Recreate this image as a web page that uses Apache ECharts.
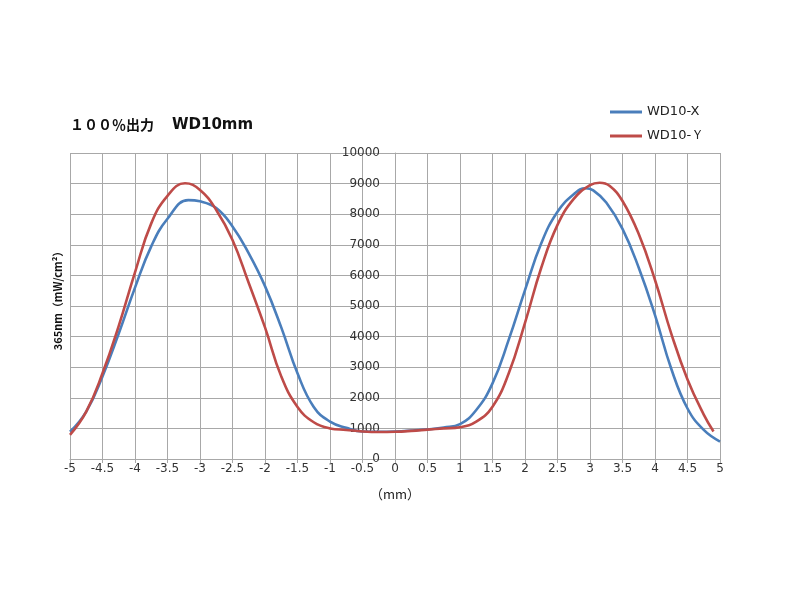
<!DOCTYPE html>
<html>
<head>
<meta charset="utf-8">
<script src="https://cdn.jsdelivr.net/npm/echarts@6/dist/echarts.min.js"></script>
<style>html,body{margin:0;padding:0;background:#fff}#c{width:800px;height:599px}</style>
</head>
<body>
<div id="c"></div>
<script>
const titleMain = '１００％出力';
const titleSub = 'WD10mm';
const yName = '365nm（mW/cm²）';
const xName = '（mm）';
const seriesNames = ['WD10-X', 'WD10-Ｙ'];

const xBlue = [-5,-4.75,-4.5,-4.25,-4,-3.75,-3.5,-3.18,-3,-2.75,-2.5,-2.25,-2,-1.75,-1.5,-1.25,-1,-0.75,-0.5,-0.25,0,0.25,0.5,0.75,1,1.25,1.5,1.75,2,2.25,2.5,2.75,2.93,3.05,3.25,3.5,3.75,4,4.25,4.5,4.75,5];
const yBlue = [890,1550,2700,4100,5600,6950,7850,8460,8420,8200,7600,6720,5650,4300,2800,1700,1220,1020,900,890,900,930,970,1030,1140,1600,2470,3900,5520,7050,8080,8650,8850,8780,8380,7520,6250,4700,2950,1650,950,570];

const xRed = [-5,-4.75,-4.5,-4.25,-4,-3.75,-3.5,-3.23,-3,-2.75,-2.5,-2.25,-2,-1.75,-1.5,-1.25,-1,-0.75,-0.5,-0.25,0,0.25,0.5,0.75,1,1.25,1.5,1.75,2,2.25,2.5,2.75,3,3.15,3.3,3.5,3.75,4,4.25,4.5,4.75,4.9];
const yRed = [790,1550,2800,4350,6100,7700,8600,9010,8790,8140,7160,5750,4300,2700,1700,1200,1000,950,900,880,890,920,960,1000,1040,1220,1710,2800,4450,6250,7650,8500,8950,9030,8930,8430,7350,5850,4100,2600,1450,900];

const gridColor = '#a8a8a8';
const chart = echarts.init(document.getElementById('c'));
chart.setOption({
  animation: false,
  backgroundColor: '#fff',
  title: {
    left: 70, top: 116, padding: 0,
    text: '{a|' + titleMain + '}　{b|' + titleSub + '}',
    textStyle: {
      rich: {
        a: {fontFamily: 'Noto Sans CJK JP', fontWeight: 'bold', fontSize: 14, color: '#111'},
        b: {fontFamily: 'DejaVu Sans', fontWeight: 'bold', fontSize: 15, color: '#111'}
      }
    }
  },
  legend: {
    orient: 'vertical', left: 610, top: 105, padding: 0,
    icon: 'rect', itemWidth: 32, itemHeight: 3, itemGap: 10,
    textStyle: {fontFamily: 'DejaVu Sans', fontSize: 13, lineHeight: 14, color: '#222'},
    data: seriesNames
  },
  grid: {left: 70, right: 80, top: 153, bottom: 140, containLabel: false},
  xAxis: {
    type: 'value', min: -5, max: 5, interval: 0.5,
    name: xName, nameLocation: 'middle', nameGap: 29,
    nameTextStyle: {fontFamily: 'Noto Sans CJK JP', fontSize: 13, color: '#222'},
    axisLine: {lineStyle: {color: gridColor}},
    axisTick: {show: true, length: 4, lineStyle: {color: gridColor}},
    axisLabel: {fontFamily: 'DejaVu Sans', fontSize: 12, color: '#333', margin: 4},
    splitLine: {show: true, lineStyle: {color: gridColor, width: 1}}
  },
  yAxis: {
    type: 'value', min: 0, max: 10000, interval: 1000,
    position: 'left', offset: -325,
    axisLine: {show: true, onZero: false, lineStyle: {color: gridColor}},
    axisTick: {show: false},
    axisLabel: {fontFamily: 'DejaVu Sans', fontSize: 12, color: '#333', margin: 15, formatter: v => String(v)},
    splitLine: {show: true, lineStyle: {color: gridColor, width: 1}}
  },
  graphic: [{
    type: 'text', x: 58, y: 298, rotation: Math.PI / 2,
    style: {text: yName, fontFamily: 'Noto Sans CJK JP', fontWeight: 'bold', fontSize: 11, fill: '#111', align: 'center', verticalAlign: 'middle'}
  }],
  series: [
    {name: seriesNames[0], type: 'line', smooth: 0.45, symbol: 'none',
     lineStyle: {color: '#4a7ebb', width: 2.6}, itemStyle: {color: '#4a7ebb'},
     data: xBlue.map((x, i) => [x, yBlue[i]])},
    {name: seriesNames[1], type: 'line', smooth: 0.45, symbol: 'none',
     lineStyle: {color: '#be4b48', width: 2.6}, itemStyle: {color: '#be4b48'},
     data: xRed.map((x, i) => [x, yRed[i]])}
  ]
});
</script>
</body>
</html>
